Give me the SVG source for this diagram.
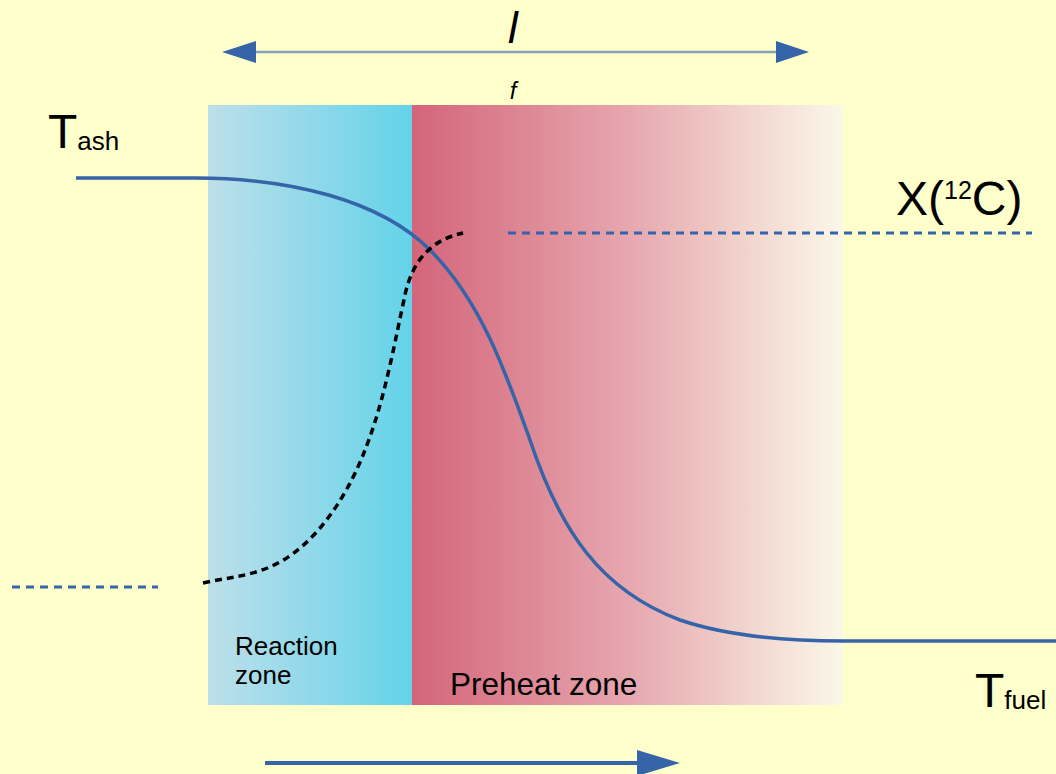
<svg xmlns="http://www.w3.org/2000/svg" width="1056" height="774" viewBox="0 0 1056 774">
  <defs>
    <linearGradient id="gReact" x1="0" y1="0" x2="1" y2="0">
      <stop offset="0" stop-color="#BEDFEA"/>
      <stop offset="1" stop-color="#63D3E9"/>
    </linearGradient>
    <linearGradient id="gPre" x1="0" y1="0" x2="1" y2="0">
      <stop offset="0" stop-color="#D4657A"/>
      <stop offset="0.5" stop-color="#E6A7AE"/>
      <stop offset="1" stop-color="#FBF8E8"/>
    </linearGradient>
  </defs>
  <style>
    text { font-family: "Liberation Sans", Arial, sans-serif; fill: #000; }
    .big { font-size: 48px; }
    .sub { font-size: 26px; }
    .zone { font-size: 26px; }
    .solid { fill: none; stroke: #3564A8; stroke-width: 3.5; }
    .bdash { fill: none; stroke: #3564A8; stroke-width: 3; stroke-dasharray: 8 6; }
    .kdash { fill: none; stroke: #000; stroke-width: 3.5; stroke-dasharray: 7 5; }
    .head { fill: #3564A8; }
  </style>
  <rect width="1056" height="774" fill="#FFFFCC"/>

  <g id="reaction-zone">
    <rect x="208" y="105" width="204" height="600" fill="url(#gReact)"/>
    <text class="zone" x="235" y="655">Reaction</text>
    <text class="zone" x="235" y="684">zone</text>
  </g>

  <g id="preheat-zone">
    <rect x="412" y="105" width="431" height="600" fill="url(#gPre)"/>
    <text x="450" y="695" style="font-size:31.5px">Preheat zone</text>
  </g>

  <g id="lf-label">
    <text x="513" y="43" text-anchor="middle" style="font-size:44px;font-style:italic">l</text>
    <text x="513" y="99" text-anchor="middle" style="font-size:24px;font-style:italic">f</text>
  </g>

  <g id="t-ash">
    <text x="48" y="148"><tspan class="big">T</tspan><tspan class="sub" dy="2">ash</tspan></text>
  </g>

  <g id="x12c">
    <text x="896" y="215"><tspan class="big">X(</tspan><tspan style="font-size:25px" dy="-16">12</tspan><tspan class="big" dy="16">C)</tspan></text>
  </g>

  <g id="t-fuel">
    <text x="975" y="707"><tspan class="big">T</tspan><tspan class="sub" dy="2">fuel</tspan></text>
  </g>

  <g id="connectors">
    <!-- width arrow -->
    <line x1="250" y1="52" x2="780" y2="52" stroke="#86A2B8" stroke-width="2.5"/>
    <polygon class="head" points="222,52 256,41 256,63"/>
    <polygon class="head" points="809,52 776,41 776,63"/>
    <!-- propagation arrow -->
    <line x1="265" y1="763" x2="642" y2="763" stroke="#3564A8" stroke-width="4"/>
    <polygon class="head" points="680,763 637,750 637,776"/>
    <!-- temperature curve -->
    <path class="solid" d="M76,178 L195,178 C290,178 380,200 430,250 C480,300 505,370 530,440 C560,530 600,590 680,620 C730,637 790,641 843,641 L1056,641"/>
    <!-- concentration curve -->
    <path class="kdash" d="M203,583 C230,577 255,576 280,562 C320,540 350,490 365,450 C385,400 395,340 405,295 C412,262 430,240 463,233"/>
    <line class="bdash" x1="508" y1="233" x2="1032" y2="233"/>
    <line class="bdash" x1="12" y1="587" x2="158" y2="587"/>
  </g>
</svg>
